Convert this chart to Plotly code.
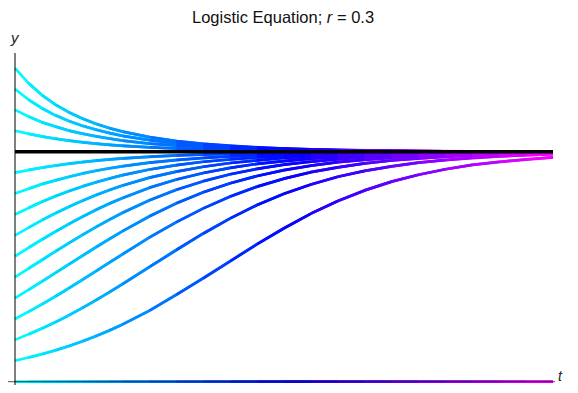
import colorsys
import plotly.graph_objects as go

# ---- data ----
t_values = [0, 0.5, 1, 1.5, 2, 2.5, 3, 3.5, 4, 5, 6, 7, 8, 9, 10,
            11, 12, 13, 14, 15, 16, 17, 18, 19, 20]
carrying_capacity = 11.0
zero_solution = [0.00] * 25
curve_1 = [1.00, 1.15, 1.31, 1.49, 1.70, 1.92, 2.17, 2.44, 2.74, 3.40, 4.15, 4.94, 5.77, 6.58, 7.34, 8.04, 8.64, 9.15, 9.57, 9.90, 10.16, 10.37, 10.52, 10.64, 10.73]
curve_2 = [2.00, 2.26, 2.54, 2.84, 3.17, 3.52, 3.89, 4.27, 4.67, 5.49, 6.31, 7.09, 7.81, 8.45, 8.99, 9.43, 9.80, 10.08, 10.30, 10.48, 10.61, 10.71, 10.78, 10.84, 10.88]
curve_3 = [3.00, 3.34, 3.70, 4.07, 4.47, 4.87, 5.28, 5.69, 6.10, 6.90, 7.63, 8.29, 8.86, 9.33, 9.71, 10.02, 10.25, 10.44, 10.58, 10.68, 10.76, 10.82, 10.87, 10.90, 10.93]
curve_4 = [4.00, 4.39, 4.79, 5.20, 5.61, 6.02, 6.43, 6.82, 7.20, 7.91, 8.53, 9.06, 9.49, 9.84, 10.12, 10.33, 10.50, 10.62, 10.72, 10.79, 10.84, 10.88, 10.91, 10.94, 10.95]
curve_5 = [5.00, 5.41, 5.82, 6.23, 6.63, 7.02, 7.39, 7.75, 8.08, 8.68, 9.18, 9.59, 9.92, 10.18, 10.38, 10.53, 10.65, 10.74, 10.81, 10.86, 10.89, 10.92, 10.94, 10.96, 10.97]
curve_6 = [6.00, 6.41, 6.80, 7.18, 7.55, 7.89, 8.22, 8.52, 8.79, 9.28, 9.67, 9.98, 10.23, 10.42, 10.56, 10.67, 10.76, 10.82, 10.86, 10.90, 10.93, 10.94, 10.96, 10.97, 10.98]
curve_7 = [7.00, 7.37, 7.73, 8.06, 8.37, 8.66, 8.93, 9.17, 9.38, 9.76, 10.05, 10.28, 10.46, 10.59, 10.70, 10.77, 10.83, 10.87, 10.91, 10.93, 10.95, 10.96, 10.97, 10.98, 10.98]
curve_8 = [8.00, 8.32, 8.61, 8.88, 9.12, 9.34, 9.54, 9.72, 9.88, 10.15, 10.36, 10.52, 10.64, 10.73, 10.80, 10.85, 10.89, 10.92, 10.94, 10.95, 10.97, 10.97, 10.98, 10.99, 10.99]
curve_9 = [9.00, 9.23, 9.45, 9.63, 9.80, 9.96, 10.09, 10.21, 10.31, 10.48, 10.61, 10.71, 10.78, 10.84, 10.88, 10.91, 10.93, 10.95, 10.96, 10.97, 10.98, 10.99, 10.99, 10.99, 10.99]
curve_10 = [10.00, 10.13, 10.24, 10.34, 10.43, 10.50, 10.57, 10.63, 10.68, 10.76, 10.82, 10.87, 10.90, 10.93, 10.95, 10.96, 10.97, 10.98, 10.98, 10.99, 10.99, 10.99, 11.00, 11.00, 11.00]
curve_12 = [12.00, 11.85, 11.72, 11.62, 11.53, 11.45, 11.39, 11.33, 11.28, 11.21, 11.15, 11.11, 11.08, 11.06, 11.05, 11.03, 11.03, 11.02, 11.01, 11.01, 11.01, 11.01, 11.00, 11.00, 11.00]
curve_13 = [13.00, 12.68, 12.41, 12.20, 12.01, 11.86, 11.73, 11.63, 11.53, 11.39, 11.29, 11.21, 11.16, 11.11, 11.08, 11.06, 11.05, 11.03, 11.03, 11.02, 11.01, 11.01, 11.01, 11.01, 11.00]
curve_14 = [14.00, 13.49, 13.08, 12.74, 12.47, 12.24, 12.05, 11.89, 11.76, 11.55, 11.40, 11.30, 11.22, 11.16, 11.12, 11.09, 11.06, 11.05, 11.04, 11.03, 11.02, 11.01, 11.01, 11.01, 11.01]
curve_15 = [15.00, 14.28, 13.71, 13.25, 12.89, 12.59, 12.34, 12.13, 11.96, 11.70, 11.51, 11.37, 11.27, 11.20, 11.15, 11.11, 11.08, 11.06, 11.04, 11.03, 11.02, 11.02, 11.01, 11.01, 11.01]
equilibrium_y = [carrying_capacity] * 25
title_text = "Logistic Equation; <i>r</i> = 0.3"

curves = [zero_solution, curve_1, curve_2, curve_3, curve_4, curve_5, curve_6,
          curve_7, curve_8, curve_9, curve_10, curve_12, curve_13, curve_14, curve_15]


def hue_color(frac):
    r, g, b = colorsys.hsv_to_rgb(0.5 + frac / 3.0, 1.0, 1.0)
    return "rgb(%d,%d,%d)" % (round(r * 255), round(g * 255), round(b * 255))


fig = go.Figure()
n = len(t_values)
t_max = t_values[-1]
for k in range(n - 1):
    hi = min(k + 2, n - 1)
    xs, ys = [], []
    for curve in curves:
        xs += t_values[k:hi + 1] + [None]
        ys += curve[k:hi + 1] + [None]
    frac = (t_values[k] + t_values[k + 1]) / 2.0 / t_max
    fig.add_trace(go.Scatter(x=xs, y=ys, mode="lines",
                             line=dict(color=hue_color(frac), width=2.7),
                             hoverinfo="skip", showlegend=False))

fig.add_trace(go.Scatter(x=t_values, y=equilibrium_y, mode="lines",
                         line=dict(color="black", width=3.6),
                         hoverinfo="skip", showlegend=False))

# The page body has an 8px margin; keep the figure small enough to avoid scrollbars.
W, H = 562, 377
x0_px, x20_px = 7.0, 545.0
y0_px, yK_px = 373.7, 143.7
px_t = (x20_px - x0_px) / 20.0
px_y = (y0_px - yK_px) / carrying_capacity
x_lo = -x0_px / px_t
x_hi = (W - x0_px) / px_t
y_lo = -(H - y0_px) / px_y
y_hi = y0_px / px_y

fig.add_shape(type="line", x0=x_lo, x1=(547 - x0_px) / px_t, y0=0, y1=0,
              line=dict(color="rgba(20,20,40,0.6)", width=1.2), layer="above")
fig.add_shape(type="line", x0=0, x1=0, y0=y_lo, y1=(y0_px - 45) / px_y,
              line=dict(color="black", width=1), layer="above")

fig.add_annotation(x=0, y=(y0_px - 29) / px_y, text="<i>y</i>", showarrow=False,
                   font=dict(family="Liberation Sans, Arial", size=15, color="#222"),
                   xanchor="center", yanchor="middle")
fig.add_annotation(x=552 / W, y=(H - 367.5) / H, xref="paper", yref="paper",
                   text="<i>t</i>", showarrow=False,
                   font=dict(family="Liberation Sans, Arial", size=14, color="#222"),
                   xanchor="center", yanchor="middle")
fig.add_annotation(x=275 / W, y=1 - 9.5 / H, xref="paper", yref="paper",
                   text=title_text, showarrow=False,
                   font=dict(family="Liberation Sans, Arial", size=16.5, color="#111"),
                   xanchor="center", yanchor="middle")

fig.update_layout(
    width=W, height=H,
    margin=dict(l=0, r=0, t=0, b=0),
    paper_bgcolor="white", plot_bgcolor="white",
    xaxis=dict(range=[x_lo, x_hi], visible=False, fixedrange=True),
    yaxis=dict(range=[y_lo, y_hi], visible=False, fixedrange=True),
    showlegend=False,
)
fig.write_html("out.html")
